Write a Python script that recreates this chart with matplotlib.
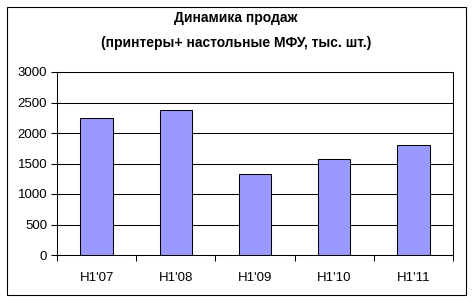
import matplotlib.pyplot as plt
from matplotlib.patches import Rectangle

# данные
periods = ["H1'07", "H1'08", "H1'09", "H1'10", "H1'11"]
sales = [2240, 2380, 1320, 1570, 1810]
yticks = [0, 500, 1000, 1500, 2000, 2500, 3000]

plt.rcParams['font.family'] = ['Liberation Sans', 'DejaVu Sans']

W, H = 473, 302
fig = plt.figure(figsize=(W / 100, H / 100), dpi=100)
ax = fig.add_axes([57 / W, 1 - 255 / H, 396 / W, 183 / H])

# рамка вокруг всей диаграммы
fig.patches.append(Rectangle((7 / W, 1 - 295 / H), 459 / W, 288 / H,
                             transform=fig.transFigure, fill=False,
                             edgecolor='black', linewidth=0.8))

lw = 0.75
x = list(range(len(periods)))
ax.bar(x, sales, width=0.41, color='#9999FF', edgecolor='black', linewidth=lw, zorder=3)

ax.set_xlim(-0.5, len(periods) - 0.5)
ax.set_ylim(0, 3000)
ax.set_yticks(yticks)
ax.set_yticklabels([str(v) for v in yticks], fontsize=9.5)
ax.set_xticks(x)
ax.set_xticklabels(periods, fontsize=9.5)
ax.set_xticks([i - 0.5 for i in range(len(periods) + 1)], minor=True)
ax.tick_params(axis='x', which='major', length=0, pad=12)
ax.tick_params(axis='x', which='minor', length=4, direction='out', width=lw)
ax.tick_params(axis='y', length=4, direction='out', width=lw, pad=3)
ax.grid(axis='y', color='black', linewidth=lw, zorder=0)
for s in ax.spines.values():
    s.set_linewidth(lw)
    s.set_color('black')

fig.text(236 / W, 1 - 18 / H, 'Динамика продаж', ha='center', va='center',
         fontsize=10, fontweight='bold')
fig.text(236 / W, 1 - 43 / H, '(принтеры+ настольные МФУ, тыс. шт.)', ha='center',
         va='center', fontsize=10, fontweight='bold')

fig.savefig('out.png', dpi=100)
